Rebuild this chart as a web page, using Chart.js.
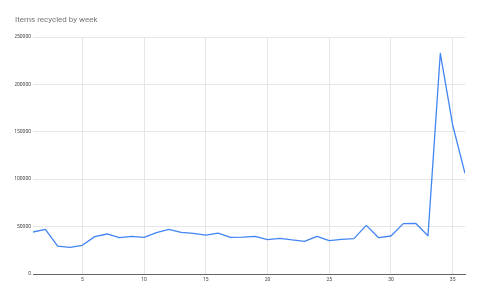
<!DOCTYPE html>
<html>
<head>
<meta charset="utf-8">
<script src="https://cdn.jsdelivr.net/npm/chart.js@4"></script>
<style>
  html, body { margin: 0; padding: 0; background: #fff; }
  #wrap { width: 480px; height: 297px; }
</style>
</head>
<body>
<div id="wrap"><canvas id="recycleChart" width="480" height="297"></canvas></div>
<script>
const chartTitle = 'Items recycled by week';
const weeks = [1, 2, 3, 4, 5, 6, 7, 8, 9, 10, 11, 12, 13, 14, 15, 16, 17, 18,
    19, 20, 21, 22, 23, 24, 25, 26, 27, 28, 29, 30, 31, 32, 33, 34, 35, 36];
const itemsRecycled = [44300, 47100, 29500, 28100, 30300, 39400, 42200, 38300, 39700, 38700, 43600, 47100,
    44000, 42900, 41100, 43200, 38700, 39000, 39700, 36200, 37600, 35900, 34500, 39700,
    35100, 36600, 37300, 51300, 38300, 40100, 53100, 53500, 40400, 232800, 157200, 106200];
const xTicks = [5, 10, 15, 20, 25, 30, 35];
const yTicks = [0, 50000, 100000, 150000, 200000, 250000];

const points = weeks.map((w, i) => ({ x: w, y: itemsRecycled[i] }));

const ctx = document.getElementById('recycleChart').getContext('2d');

new Chart(ctx, {
    type: 'line',
    data: {
        datasets: [{
            label: 'Items recycled',
            data: points,
            borderColor: '#4285f4',
            borderWidth: 1.3,
            borderJoinStyle: 'round',
            pointRadius: 0,
            tension: 0,
            fill: false
        }]
    },
    options: {
        responsive: false,
        animation: false,
        layout: {
            padding: { top: 15, left: 15, right: 15, bottom: 0 }
        },
        plugins: {
            legend: { display: false },
            tooltip: { enabled: false },
            title: {
                display: true,
                text: chartTitle,
                align: 'start',
                color: '#757575',
                font: { family: 'Roboto', size: 8, weight: 'normal' },
                padding: { top: 0, bottom: 12.4 }
            }
        },
        scales: {
            x: {
                type: 'linear',
                min: weeks[0],
                max: weeks[weeks.length - 1],
                afterBuildTicks: scale => {
                    scale.ticks = xTicks.map(v => ({ value: v }));
                },
                afterFit: scale => { scale.height = 23; },
                grid: { color: '#e6e6e6', lineWidth: 1, drawTicks: false },
                border: { display: true, color: '#666', width: 1 },
                ticks: {
                    color: '#444',
                    font: { family: 'Roboto', size: 5 },
                    padding: 3,
                    maxRotation: 0
                }
            },
            y: {
                min: yTicks[0],
                max: yTicks[yTicks.length - 1],
                afterBuildTicks: scale => {
                    scale.ticks = yTicks.map(v => ({ value: v }));
                },
                afterFit: scale => { scale.width = 18; },
                grid: { color: '#e6e6e6', lineWidth: 1, drawTicks: false },
                border: { display: false },
                ticks: {
                    color: '#444',
                    font: { family: 'Roboto', size: 5 },
                    padding: 2,
                    callback: v => String(v)
                }
            }
        }
    }
});
</script>
</body>
</html>
